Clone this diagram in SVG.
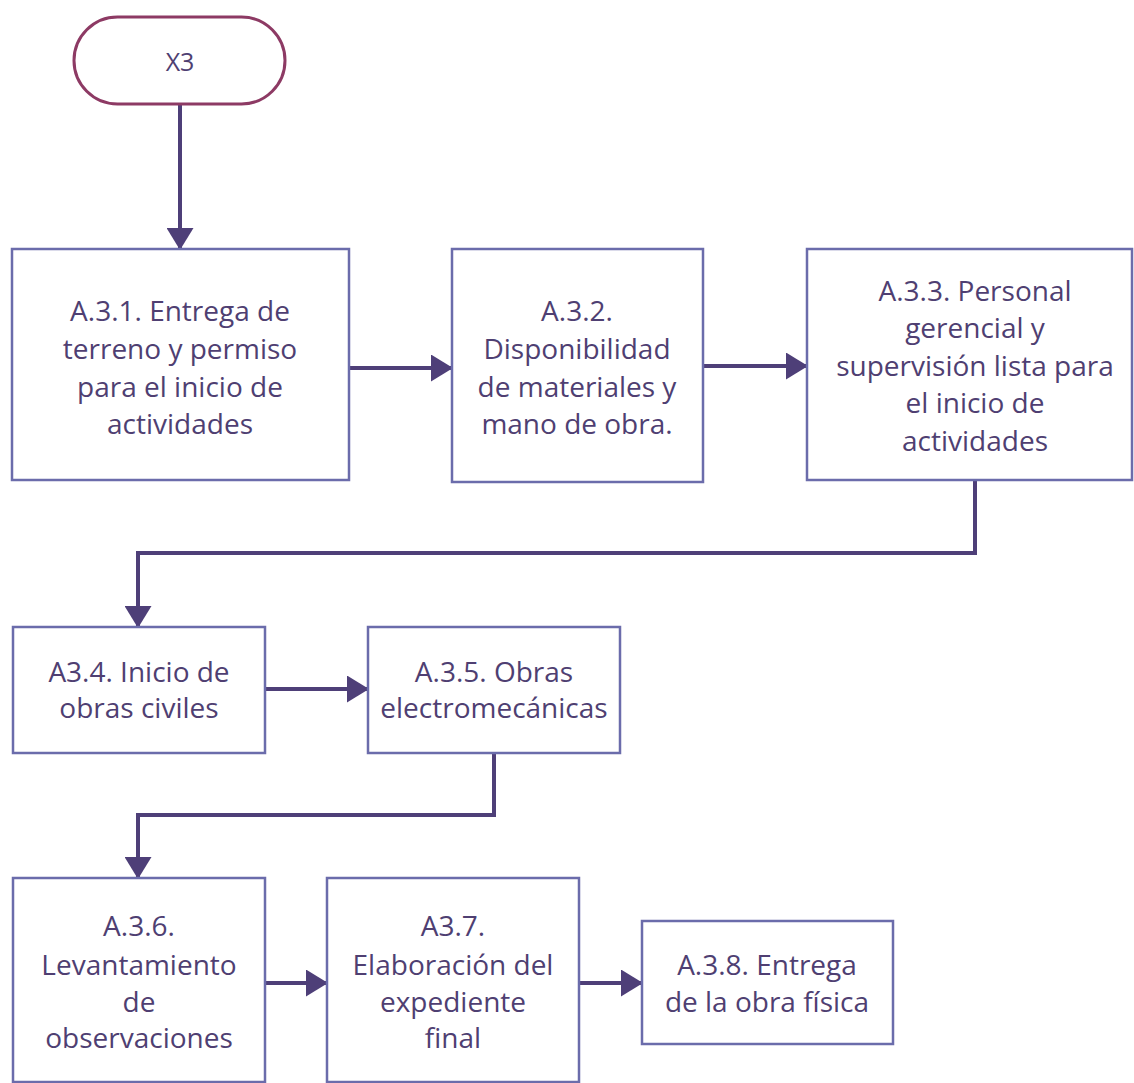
<svg xmlns="http://www.w3.org/2000/svg" width="1134" height="1083" viewBox="0 0 1134 1083">
<style>
.box{fill:#ffffff;stroke:#6b6cab;stroke-width:2.5}
.term{fill:#ffffff;stroke:#8d3a64;stroke-width:3}
.lbl{font-family:"Open Sans","Noto Sans","Liberation Sans",sans-serif;font-size:28px;fill:#4f3f72;text-anchor:middle}
.conn{fill:none;stroke:#4e3f78;stroke-width:4;marker-end:url(#ah)}
</style>
<defs>
<marker id="ah" viewBox="0 0 22 27" refX="21" refY="13.5" markerWidth="22" markerHeight="27" markerUnits="userSpaceOnUse" orient="auto">
<path d="M0,0 L22,13.5 L0,27 Z" fill="#4e3f78"/>
</marker>
</defs>
<rect width="1134" height="1083" fill="#ffffff"/>
<g id="connectors">
<path class="conn" d="M180,104 V249"/>
<path class="conn" d="M349,368 H452"/>
<path class="conn" d="M703,366 H807"/>
<path class="conn" d="M975,480 V553 H138 V627"/>
<path class="conn" d="M265,689 H368"/>
<path class="conn" d="M494,753 V815 H138 V878"/>
<path class="conn" d="M265,983 H327"/>
<path class="conn" d="M579,983 H642"/>
</g>
<g id="X3">
<rect class="term" x="74" y="17" width="211" height="87" rx="43.5"/>
<text class="lbl" x="180" y="71" style="font-size:25px">X3</text>
</g>
<g id="A31">
<rect class="box" x="12" y="249" width="337" height="231"/>
<text class="lbl" x="180" y="321">A.3.1. Entrega de</text>
<text class="lbl" x="180" y="359">terreno y permiso</text>
<text class="lbl" x="180" y="397">para el inicio de</text>
<text class="lbl" x="180" y="434">actividades</text>
</g>
<g id="A32">
<rect class="box" x="452" y="249" width="251" height="233"/>
<text class="lbl" x="577" y="321">A.3.2.</text>
<text class="lbl" x="577" y="359">Disponibilidad</text>
<text class="lbl" x="577" y="397">de materiales y</text>
<text class="lbl" x="577" y="434">mano de obra.</text>
</g>
<g id="A33">
<rect class="box" x="807" y="249" width="325" height="231"/>
<text class="lbl" x="975" y="301">A.3.3. Personal</text>
<text class="lbl" x="975" y="338">gerencial y</text>
<text class="lbl" x="975" y="376">supervisión lista para</text>
<text class="lbl" x="975" y="413">el inicio de</text>
<text class="lbl" x="975" y="451">actividades</text>
</g>
<g id="A34">
<rect class="box" x="13" y="627" width="252" height="126"/>
<text class="lbl" x="139" y="682">A3.4. Inicio de</text>
<text class="lbl" x="139" y="718">obras civiles</text>
</g>
<g id="A35">
<rect class="box" x="368" y="627" width="252" height="126"/>
<text class="lbl" x="494" y="682">A.3.5. Obras</text>
<text class="lbl" x="494" y="718">electromecánicas</text>
</g>
<g id="A36">
<rect class="box" x="13" y="878" width="252" height="204"/>
<text class="lbl" x="139" y="936">A.3.6.</text>
<text class="lbl" x="139" y="975">Levantamiento</text>
<text class="lbl" x="139" y="1012">de</text>
<text class="lbl" x="139" y="1048">observaciones</text>
</g>
<g id="A37">
<rect class="box" x="327" y="878" width="252" height="204"/>
<text class="lbl" x="453" y="936">A3.7.</text>
<text class="lbl" x="453" y="975">Elaboración del</text>
<text class="lbl" x="453" y="1012">expediente</text>
<text class="lbl" x="453" y="1048">final</text>
</g>
<g id="A38">
<rect class="box" x="642" y="921" width="251" height="123"/>
<text class="lbl" x="767" y="975">A.3.8. Entrega</text>
<text class="lbl" x="767" y="1012">de la obra física</text>
</g>
</svg>
